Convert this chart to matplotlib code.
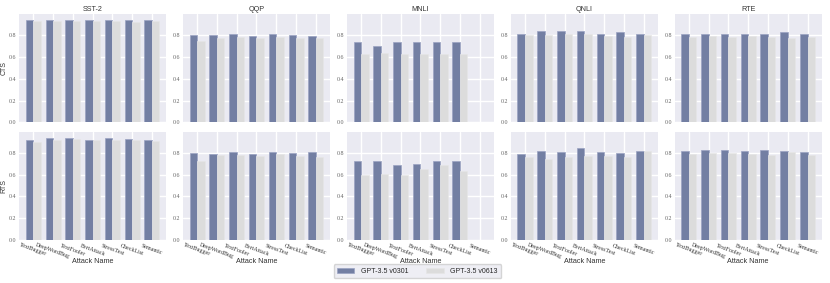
import matplotlib
matplotlib.use('Agg')
import matplotlib.pyplot as plt
import numpy as np
import seaborn as sns

attacks = ['TextBugger', 'DeepWordBug', 'TextFooler', 'BertAttack',
           'StressTest', 'CheckList', 'Semantic']
datasets = ['SST-2', 'QQP', 'MNLI', 'QNLI', 'RTE']
nan = np.nan

# CTS scores, one list per dataset
cts_v0301 = {
    'SST-2': [0.940, 0.940, 0.940, 0.937, 0.940, 0.940, 0.937],
    'QQP': [0.800, 0.806, 0.812, 0.794, 0.812, 0.803, 0.791],
    'MNLI': [0.742, 0.705, 0.742, 0.739, 0.739, 0.742, nan],
    'QNLI': [0.812, 0.840, 0.843, 0.840, 0.812, 0.827, 0.812],
    'RTE': [0.812, 0.815, 0.812, 0.815, 0.815, 0.827, 0.809],
}
cts_v0613 = {
    'SST-2': [0.928, 0.928, 0.928, 0.932, 0.928, 0.922, 0.928],
    'QQP': [0.748, 0.779, 0.788, 0.779, 0.788, 0.779, 0.779],
    'MNLI': [0.632, 0.641, 0.632, 0.629, 0.629, 0.629, nan],
    'QNLI': [0.803, 0.803, 0.815, 0.815, 0.797, 0.788, 0.800],
    'RTE': [0.788, 0.797, 0.788, 0.797, 0.788, 0.779, 0.788],
}

# RTS scores
rts_v0301 = {
    'SST-2': [0.922, 0.934, 0.940, 0.916, 0.934, 0.928, 0.922],
    'QQP': [0.803, 0.794, 0.812, 0.791, 0.812, 0.797, 0.806],
    'MNLI': [0.724, 0.724, 0.693, 0.696, 0.721, 0.727, nan],
    'QNLI': [0.794, 0.818, 0.812, 0.843, 0.806, 0.797, 0.818],
    'RTE': [0.821, 0.824, 0.831, 0.821, 0.824, 0.815, 0.809],
}
rts_v0613 = {
    'SST-2': [0.898, 0.916, 0.931, 0.919, 0.919, 0.919, 0.910],
    'QQP': [0.724, 0.782, 0.782, 0.769, 0.791, 0.769, 0.760],
    'MNLI': [0.598, 0.608, 0.598, 0.656, 0.690, 0.638, nan],
    'QNLI': [0.763, 0.745, 0.763, 0.773, 0.773, 0.763, 0.818],
    'RTE': [0.791, 0.800, 0.800, 0.791, 0.782, 0.809, 0.782],
}

sns.set_theme(style='darkgrid')
plt.rcParams['font.family'] = ['Liberation Sans', 'DejaVu Sans']

blue = '#737fa3'
grey = '#dcdcdc'
serif = ['Liberation Serif', 'DejaVu Serif']

fig, axes = plt.subplots(2, 5, figsize=(8.3, 2.83), dpi=100, sharex=True, sharey=True)
fig.subplots_adjust(left=0.023, right=0.990, top=0.950, bottom=0.152,
                    wspace=0.115, hspace=0.085)

x = np.arange(len(attacks))
w = 0.38
rows = [('CTS', cts_v0301, cts_v0613), ('RTS', rts_v0301, rts_v0613)]

for r, (metric, a, b) in enumerate(rows):
    for c, name in enumerate(datasets):
        ax = axes[r, c]
        ax.bar(x - w / 2, a[name], width=w, color=blue, edgecolor='#9aa2c2',
               linewidth=0.5, label='GPT-3.5 v0301')
        ax.bar(x + w / 2, b[name], width=w, color=grey, edgecolor='#e6e6e6',
               linewidth=0.5, label='GPT-3.5 v0613')
        ax.set_yticks([0.0, 0.2, 0.4, 0.6, 0.8])
        ax.tick_params(length=0)
        ax.tick_params(axis='y', labelsize=4.3, pad=2, labelcolor='#666666',
                       labelleft=True)
        for lab in ax.get_yticklabels():
            lab.set_family(serif)
        ax.set_xticks(x)
        if r == 0:
            ax.set_title(name, fontsize=5.2, pad=2, color='#333333')
        else:
            ax.set_xticklabels(attacks, rotation=-20, ha='center', fontsize=4.3,
                               family=serif, color='#333333')
            ax.tick_params(axis='x', pad=2)
            ax.set_xlabel('Attack Name', fontsize=5.2, color='#333333', va='top')
            ax.xaxis.set_label_coords(0.5, -0.165)
        if c == 0:
            ax.set_ylabel(metric, fontsize=5, color='#333333')
            ax.yaxis.set_label_coords(-0.08, 0.5)
        for s in ax.spines.values():
            s.set_visible(False)

axes[0, 0].set_ylim(0, 0.995)

handles, labels = axes[0, 0].get_legend_handles_labels()
fig.legend(handles, labels, loc='lower center', ncol=2, fontsize=5,
           bbox_to_anchor=(0.503, 0.005), frameon=True, handlelength=2.5,
           columnspacing=2.5, borderpad=0.5, handletextpad=1.0)

fig.savefig('out.png', dpi=100)
